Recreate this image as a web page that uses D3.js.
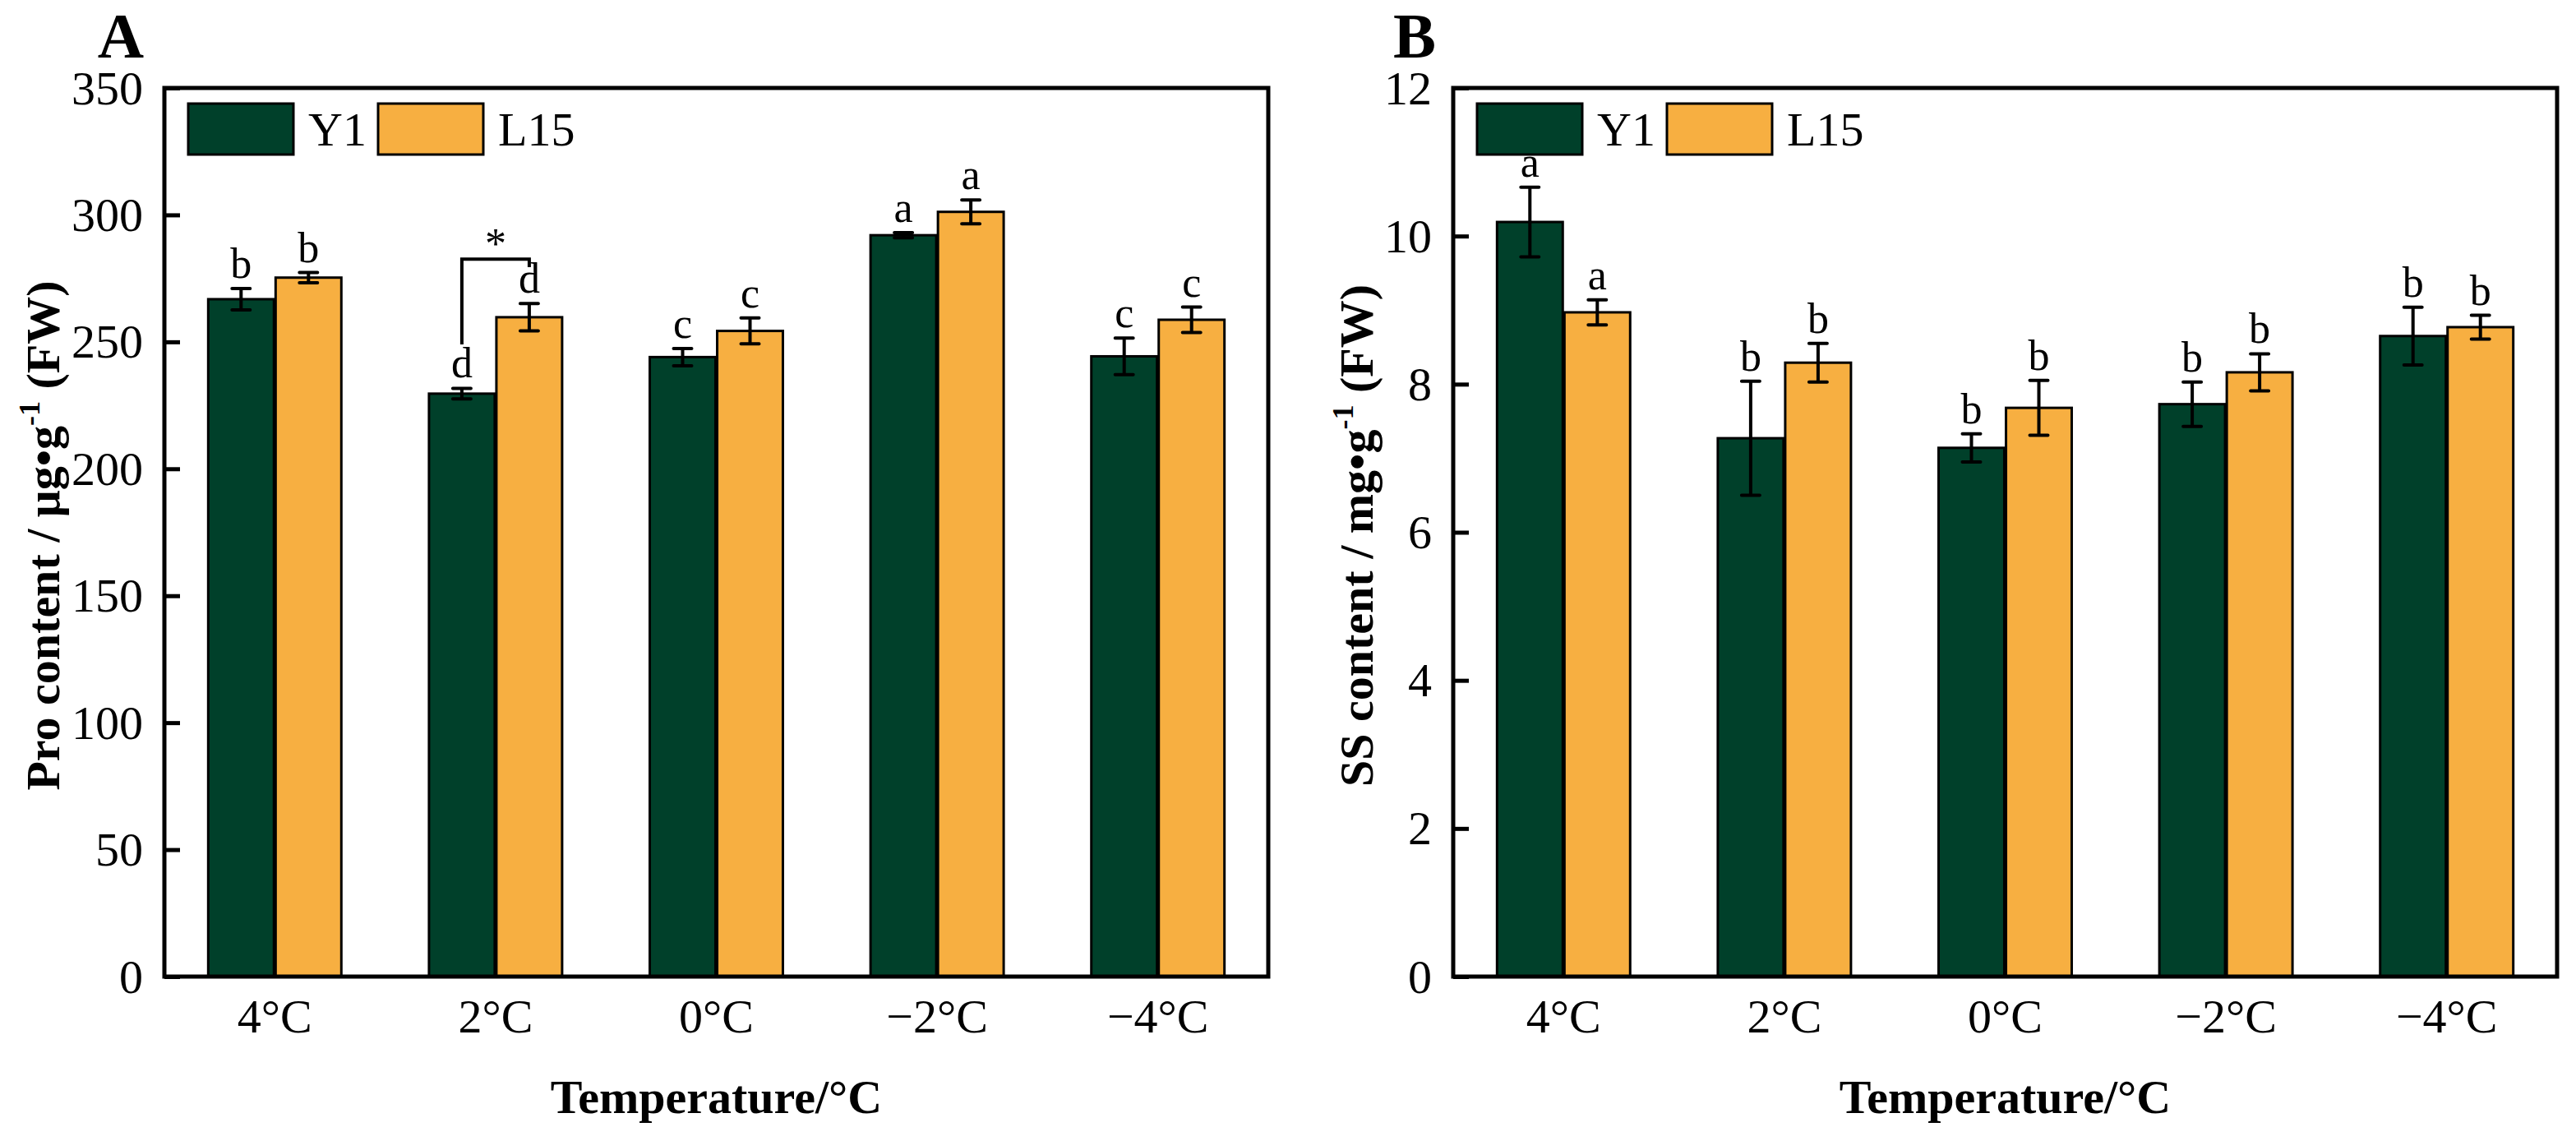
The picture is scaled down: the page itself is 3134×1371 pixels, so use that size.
<!DOCTYPE html>
<html>

<head>
    <meta charset="UTF-8">
    <title>Pro and SS content</title>
    <style>
        body {
            margin: 0;
            background: #fff;
        }

        svg text {
            font-family: "Times New Roman", "Liberation Serif", serif;
            fill: #000;
        }

        .axis path {
            display: none;
        }

        .axis line {
            stroke: #000;
            stroke-width: 5px;
        }

        .axis text {
            font-size: 58px;
        }

        .frame {
            fill: none;
            stroke: #000;
            stroke-width: 5px;
        }

        .bar {
            stroke: #000;
            stroke-width: 3px;
        }

        .err {
            stroke: #000;
            stroke-width: 4px;
            stroke-linecap: round;
            fill: none;
        }

        .sig {
            font-size: 52px;
            text-anchor: middle;
        }

        .title {
            font-size: 58px;
            font-weight: bold;
        }

        .panel-label {
            font-size: 78px;
            font-weight: bold;
            text-anchor: middle;
        }

        .legend text {
            font-size: 58px;
        }
    </style>
</head>

<body>
    <svg id="chart" width="3134" height="1371"></svg>

    <script src="https://cdn.jsdelivr.net/npm/d3@7"></script>

    <script>
        // categories
        const categories = ['4°C', '2°C', '0°C', '−2°C', '−4°C'];
        const series = ['Y1', 'L15'];
        const colors = ['#00402A', '#F7AF41'];

        // panel A: Pro content
        const proY1 = [266.8, 229.6, 244.0, 292.0, 244.3];
        const proY1Err = [4.2, 2.1, 3.4, 1.0, 7.2];
        const proL15 = [275.3, 259.7, 254.3, 301.2, 258.7];
        const proL15Err = [2.0, 5.4, 5.1, 4.7, 5.0];
        const proY1Sig = ['b', 'd', 'c', 'a', 'c'];
        const proL15Sig = ['b', 'd', 'c', 'a', 'c'];
        const proTicks = [0, 50, 100, 150, 200, 250, 300, 350];

        // panel B: SS content
        const ssY1 = [10.19, 7.27, 7.14, 7.73, 8.65];
        const ssY1Err = [0.47, 0.77, 0.19, 0.30, 0.39];
        const ssL15 = [8.97, 8.29, 7.68, 8.16, 8.77];
        const ssL15Err = [0.17, 0.26, 0.37, 0.25, 0.16];
        const ssY1Sig = ['a', 'b', 'b', 'b', 'b'];
        const ssL15Sig = ['a', 'b', 'b', 'b', 'b'];
        const ssTicks = [0, 2, 4, 6, 8, 10, 12];

        // significance bracket in panel A (2°C, Y1 vs L15)
        const bracketCat = '2°C';
        const bracketVals = [249, 282.6, 279.4]; // left foot, top, right foot
        const bracketLabel = '*';

        const svg = d3.select('#chart');
        const plotTop = 107;
        const plotBottom = 1188;

        function drawPanel(opt) {
            const g = svg.append('g');

            const x = d3.scaleBand()
                .domain(categories)
                .range([opt.left, opt.right])
                .paddingInner(0.397)
                .paddingOuter(0.1985);

            const x1 = d3.scaleBand()
                .domain(series)
                .range([0, x.bandwidth()])
                .paddingInner(0.025);

            const y = d3.scaleLinear()
                .domain([0, opt.max])
                .range([plotBottom, plotTop]);

            const rows = [];
            categories.forEach((c, i) => {
                rows.push({ cat: c, s: 'Y1', v: opt.y1[i], e: opt.y1Err[i], sig: opt.y1Sig[i], color: colors[0] });
                rows.push({ cat: c, s: 'L15', v: opt.l15[i], e: opt.l15Err[i], sig: opt.l15Sig[i], color: colors[1] });
            });

            g.selectAll('.bar')
                .data(rows)
                .enter()
                .append('rect')
                .attr('class', 'bar')
                .attr('x', d => x(d.cat) + x1(d.s))
                .attr('width', x1.bandwidth())
                .attr('y', d => y(d.v))
                .attr('height', d => y(0) - y(d.v))
                .style('fill', d => d.color);

            const cx = d => x(d.cat) + x1(d.s) + x1.bandwidth() / 2;

            g.selectAll('.err')
                .data(rows)
                .enter()
                .append('path')
                .attr('class', 'err')
                .attr('d', d => {
                    const c = cx(d), y0 = y(d.v - d.e), y1 = y(d.v + d.e);
                    return `M${c - 11},${y1}H${c + 11}M${c},${y1}V${y0}M${c - 11},${y0}H${c + 11}`;
                });

            g.selectAll('.sig')
                .data(rows)
                .enter()
                .append('text')
                .attr('class', 'sig')
                .attr('x', cx)
                .attr('y', d => y(d.v + d.e) - 13)
                .text(d => d.sig);

            // axes
            const yAxis = d3.axisLeft(y)
                .tickValues(opt.ticks)
                .tickSize(-19)
                .tickPadding(26);

            g.append('g')
                .attr('class', 'axis')
                .attr('transform', `translate(${ opt.left },0)`)
                .call(yAxis)
                .selectAll('text')
                .attr('dy', '0.33em');

            g.append('g')
                .attr('class', 'axis')
                .attr('transform', `translate(0,${ plotBottom })`)
                .call(d3.axisBottom(x).tickSize(0))
                .selectAll('text')
                .attr('y', 68)
                .attr('dy', 0);

            g.append('rect')
                .attr('class', 'frame')
                .attr('x', opt.left)
                .attr('y', plotTop)
                .attr('width', opt.right - opt.left)
                .attr('height', plotBottom - plotTop);

            // legend
            const lg = g.append('g').attr('class', 'legend');
            series.forEach((s, i) => {
                const lx = opt.left + 29 + i * 231;
                lg.append('rect')
                    .attr('class', 'bar')
                    .attr('x', lx)
                    .attr('y', 126)
                    .attr('width', 128)
                    .attr('height', 62)
                    .style('fill', colors[i]);
                lg.append('text')
                    .attr('x', lx + 146)
                    .attr('y', 177)
                    .text(s);
            });

            // titles
            g.append('text')
                .attr('class', 'title')
                .attr('text-anchor', 'middle')
                .attr('x', (opt.left + opt.right) / 2)
                .attr('y', 1354)
                .text('Temperature/°C');

            const yt = g.append('text')
                .attr('class', 'title')
                .attr('text-anchor', 'middle')
                .attr('transform', `translate(${ opt.titleX },${ (plotTop + plotBottom) / 2 + 4 }) rotate(-90)`);
            yt.append('tspan').text(opt.yTitle);
            yt.append('tspan').attr('font-size', '36px').attr('dy', '-24').text('-1');
            yt.append('tspan').attr('dy', '24').text(' (FW)');

            g.append('text')
                .attr('class', 'panel-label')
                .attr('x', opt.labelX)
                .attr('y', 70)
                .text(opt.label);

            return { g, x, x1, y };
        }

        const a = drawPanel({
            left: 200, right: 1543, max: 350, ticks: proTicks,
            y1: proY1, y1Err: proY1Err, l15: proL15, l15Err: proL15Err,
            y1Sig: proY1Sig, l15Sig: proL15Sig,
            yTitle: 'Pro content / μg•g', titleX: 72, label: 'A', labelX: 147
        });

        drawPanel({
            left: 1768, right: 3111, max: 12, ticks: ssTicks,
            y1: ssY1, y1Err: ssY1Err, l15: ssL15, l15Err: ssL15Err,
            y1Sig: ssY1Sig, l15Sig: ssL15Sig,
            yTitle: 'SS content / mg•g', titleX: 1670, label: 'B', labelX: 1721
        });

        // bracket with star
        const bxL = a.x(bracketCat) + a.x1('Y1') + a.x1.bandwidth() / 2;
        const bxR = a.x(bracketCat) + a.x1('L15') + a.x1.bandwidth() / 2;
        a.g.append('path')
            .attr('d', `M${bxL},${a.y(bracketVals[0])}V${a.y(bracketVals[1])}H${bxR}V${a.y(bracketVals[2])}`)
            .attr('fill', 'none')
            .attr('stroke', '#000')
            .attr('stroke-width', 4);
        a.g.append('text')
            .attr('class', 'sig')
            .attr('x', (bxL + bxR) / 2)
            .attr('y', a.y(bracketVals[1]) - 1)
            .text(bracketLabel);
    </script>
</body>

</html>
